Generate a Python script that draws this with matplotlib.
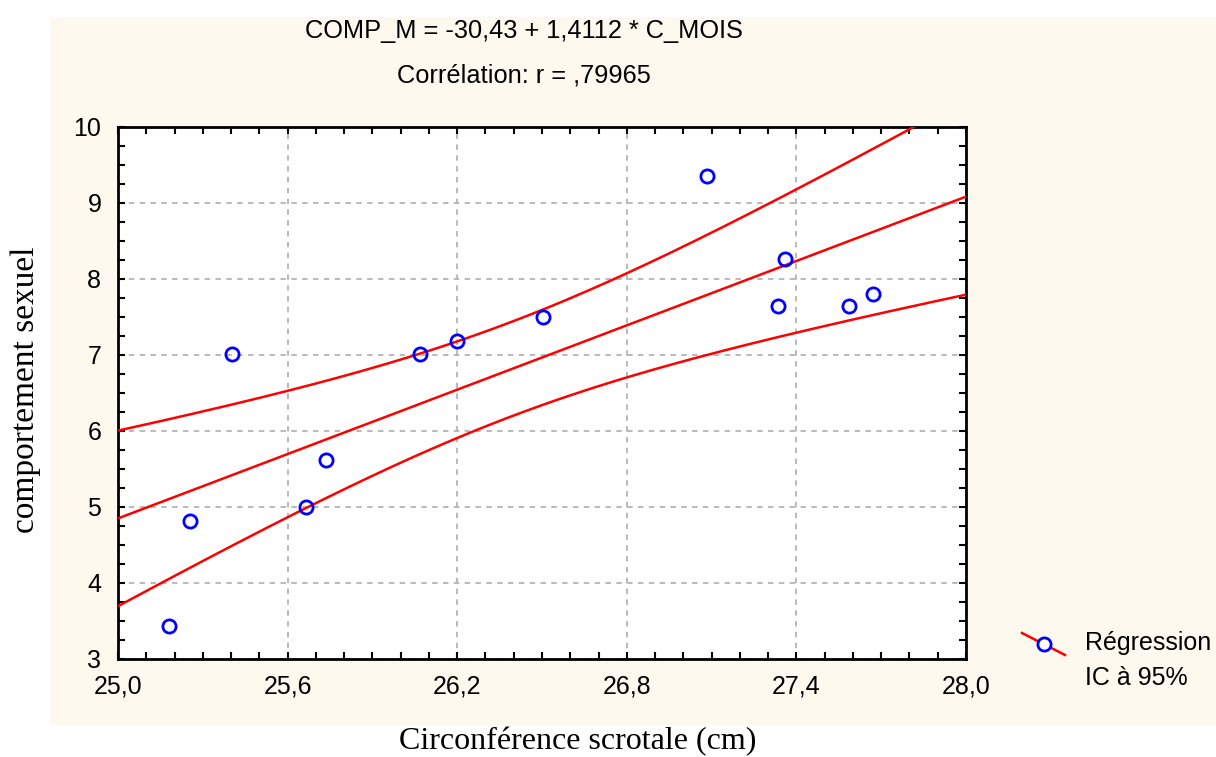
import numpy as np
import matplotlib
matplotlib.use("Agg")
import matplotlib.pyplot as plt
from matplotlib.patches import Rectangle
from matplotlib.lines import Line2D
from matplotlib.ticker import MultipleLocator, FixedLocator, FuncFormatter

# ---- data ----
circ = [25.18, 25.255, 25.405, 25.665, 25.735, 26.07, 26.2, 26.505, 27.085, 27.335, 27.36, 27.585, 27.67]
comp = [3.43, 4.82, 7.01, 5.00, 5.62, 7.01, 7.18, 7.50, 9.36, 7.64, 8.26, 7.64, 7.80]
intercept = -30.43
slope = 1.4112
r_value = ",79965"
x_ticks = [25.0, 25.6, 26.2, 26.8, 27.4, 28.0]
y_ticks = [3, 4, 5, 6, 7, 8, 9, 10]
t_crit = 2.201  # t(11, 0.975)

W, H = 1216, 757
fig = plt.figure(figsize=(W / 100, H / 100), dpi=100)
fig.patch.set_facecolor("white")

def fx(px):
    return px / W

def fy(py):
    return 1 - py / H

# cream panel
fig.add_artist(Rectangle((fx(50), fy(725)), fx(1216) - fx(50), fy(17) - fy(725),
                         transform=fig.transFigure, facecolor="#FDF9EE", edgecolor="none", zorder=0))

L, R, T, B = 118, 966, 127, 659
ax = fig.add_axes([fx(L), fy(B), fx(R) - fx(L), fy(T) - fy(B)])
ax.set_facecolor("white")
ax.set_xlim(25.0, 28.0)
ax.set_ylim(3, 10)

# regression line and 95% CI
xa = np.array(circ)
ya = np.array(comp)
n = len(xa)
yhat = intercept + slope * xa
s = np.sqrt(np.sum((ya - yhat) ** 2) / (n - 2))
xm = xa.mean()
sxx = np.sum((xa - xm) ** 2)
xs = np.linspace(25.0, 28.0, 300)
fit = intercept + slope * xs
half = t_crit * s * np.sqrt(1 / n + (xs - xm) ** 2 / sxx)
for yy in (fit, fit + half, fit - half):
    ax.plot(xs, yy, color="#FF0000", lw=1.8, zorder=3)

ax.plot(circ, comp, linestyle="none", marker="o", markersize=9.5, markerfacecolor="none",
        markeredgecolor="#0000FF", markeredgewidth=2.0, zorder=4)

# ticks & grid
ax.xaxis.set_major_locator(FixedLocator(x_ticks))
ax.xaxis.set_minor_locator(MultipleLocator(0.1))
ax.yaxis.set_major_locator(FixedLocator(y_ticks))
ax.yaxis.set_minor_locator(MultipleLocator(0.25))
ax.xaxis.set_major_formatter(FuncFormatter(lambda v, p: f"{v:.1f}".replace(".", ",")))
ax.yaxis.set_major_formatter(FuncFormatter(lambda v, p: f"{int(round(v))}"))
ax.tick_params(which="both", direction="in", top=True, right=True, length=5, width=1.5,
               colors="black")
ax.tick_params(axis="x", which="major", labelsize=18, pad=11)
ax.tick_params(axis="y", which="major", labelsize=18, pad=12)
for lab in ax.get_xticklabels() + ax.get_yticklabels():
    lab.set_fontfamily("Liberation Sans")
ax.grid(True, which="major", color="#b4b4b4", linestyle=(0, (3, 3)), linewidth=1.3)
for sp in ax.spines.values():
    sp.set_linewidth(2)
    sp.set_color("black")

# axis labels
fig.text(fx(578), fy(742), "Circonférence scrotale (cm)", ha="center", va="center",
         fontfamily="Liberation Serif", fontsize=23)
fig.text(fx(26), fy(390), "comportement sexuel", ha="center", va="center", rotation=90,
         fontfamily="Liberation Serif", fontsize=24)

# titles
fig.text(fx(524), fy(31), f"COMP_M = {intercept:.2f} + {slope:.4f} * C_MOIS".replace(".", ","),
         ha="center", va="center", fontsize=18.3, fontfamily="Liberation Sans")
fig.text(fx(524), fy(75), f"Corrélation: r = {r_value}",
         ha="center", va="center", fontsize=18.3, fontfamily="Liberation Sans")

# legend
fig.add_artist(Line2D([fx(1022), fx(1065)], [fy(633), fy(655)], transform=fig.transFigure,
                      color="#FF0000", lw=1.8))
fig.add_artist(Line2D([fx(1044)], [fy(644)], transform=fig.transFigure, marker="o",
                      markersize=9.5, markerfacecolor="white", markeredgecolor="#0000FF",
                      markeredgewidth=2.0, linestyle="none"))
fig.text(fx(1085), fy(643), "Régression", ha="left", va="center", fontsize=18,
         fontfamily="Liberation Sans")
fig.text(fx(1085), fy(678), "IC à 95%", ha="left", va="center", fontsize=18,
         fontfamily="Liberation Sans")

fig.savefig("out.png", dpi=100)
